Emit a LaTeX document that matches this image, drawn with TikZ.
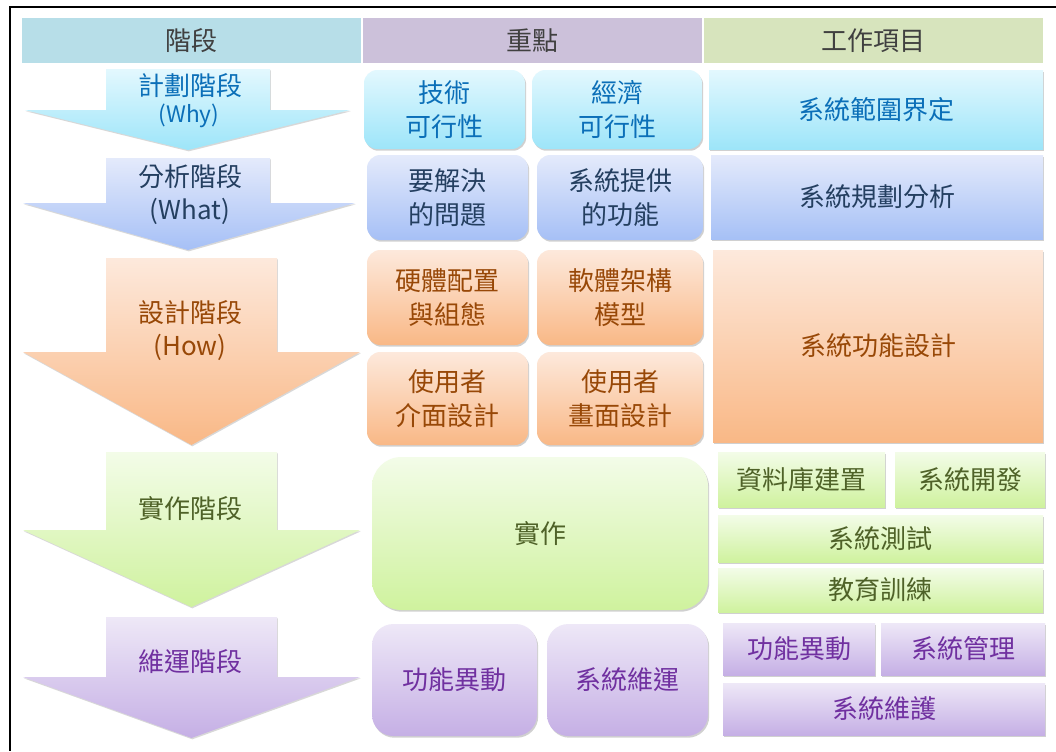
\documentclass[tikz,border=0pt]{standalone}
\usepackage{fontspec}
\newfontfamily\cjk{Noto Sans CJK TC}
\usetikzlibrary{shadows}
\definecolor{hA}{HTML}{B7DEE8}
\definecolor{hB}{HTML}{CCC1DA}
\definecolor{hC}{HTML}{D7E4BD}
\definecolor{hT}{HTML}{404040}
\definecolor{aT}{HTML}{E3F8FE}\definecolor{aB}{HTML}{9DE5F9}\definecolor{aX}{HTML}{0B6FB8}
\definecolor{bT}{HTML}{E4EAFB}\definecolor{bB}{HTML}{A6C0F6}\definecolor{bX}{HTML}{243F60}
\definecolor{cT}{HTML}{FDE9DC}\definecolor{cB}{HTML}{F9B886}\definecolor{cX}{HTML}{984807}
\definecolor{dT}{HTML}{F3FCE8}\definecolor{dB}{HTML}{CFF29E}\definecolor{dX}{HTML}{4F6228}
\definecolor{eT}{HTML}{EEE8F7}\definecolor{eB}{HTML}{C5AFE5}\definecolor{eX}{HTML}{7030A0}
\newcommand\rbox[7]{\node[#6, minimum width={(#4-#2)*0.75pt}, minimum height={(#5-#3)*0.75pt}] (#1) at ({(#2+#4)/2},{(#3+#5)/2}) {#7};}
\newcommand\arr[9]{\path[#9] (#2,#4) -- (#3,#4) -- (#3,#7) -- (#6,#7) -- ({(#2+#3)/2},#8) -- (#5,#7) -- (#2,#7) -- cycle;
  \coordinate (#1) at ({(#2+#3)/2},{(#4+#8)/2});}
\begin{document}
\begin{tikzpicture}[x=0.75pt,y=-0.75pt,
  txt/.style={font=\cjk\fontsize{19.5}{25.5}\selectfont, align=center, inner sep=0pt},
  hdr/.style={txt, text=hT},
  shd/.style={drop shadow={shadow xshift=0.9pt, shadow yshift=-1.3pt, opacity=0.3, fill=black!60}},
  mbox/.style={txt, rectangle, rounded corners=10pt, shd},
  sbox/.style={txt, rectangle, shd},
  rA/.style={top color=aT, bottom color=aB, text=aX},
  rB/.style={top color=bT, bottom color=bB, text=bX},
  rC/.style={top color=cT, bottom color=cB, text=cX},
  rD/.style={top color=dT, bottom color=dB, text=dX},
  rE/.style={top color=eT, bottom color=eB, text=eX},
  arrowshape/.style={drop shadow={shadow xshift=0.6pt, shadow yshift=-1pt, opacity=0.25, fill=black!60}}
]
\useasboundingbox (0,0) rectangle (1056,751);
\fill[white] (0,0) rectangle (1056,751);
\draw[line width=1.7pt] (1056,7) -- (10,7) -- (10,751);

% headers
\rbox{h1}{22}{18}{361}{63}{hdr, fill=hA}{階段}
\rbox{h2}{363}{18}{702}{63}{hdr, fill=hB}{重點}
\rbox{h3}{704}{18}{1043}{63}{hdr, fill=hC}{工作項目}

% arrows
\arr{a1}{106}{270}{69}{25}{350}{110}{150}{arrowshape, top color=aT, bottom color=aB}
\arr{a2}{106}{270}{158}{23}{355}{203}{250}{arrowshape, top color=bT, bottom color=bB}
\arr{a3}{106}{277}{258}{23}{360}{352}{445}{arrowshape, top color=cT, bottom color=cB}
\arr{a4}{106}{277}{452}{23}{360}{530}{607}{arrowshape, top color=dT, bottom color=dB}
\arr{a5}{106}{277}{617}{23}{360}{677}{738}{arrowshape, top color=eT, bottom color=eB}

\node[txt, text=aX] (t1) at (190,86) {計劃階段};
\node[txt, text=aX, font=\cjk\fontsize{17}{20}\selectfont] (t1b) at (189,116) {(Why)};
\node[txt, text=bX] (t2) at (190,177) {分析階段};
\node[txt, text=bX] (t2b) at (190,211) {(What)};
\node[txt, text=cX] (t3) at (190,313) {設計階段};
\node[txt, text=cX] (t3b) at (190,347) {(How)};
\node[txt, text=dX] (t4) at (190,509) {實作階段};
\node[txt, text=eX] (t5) at (190,662) {維運階段};

% middle column
\rbox{m11}{364}{70}{525}{149}{mbox, rA}{技術\\可行性}
\rbox{m12}{532}{70}{702}{149}{mbox, rA}{經濟\\可行性}
\rbox{m21}{367}{155}{528}{240}{mbox, rB}{要解決\\的問題}
\rbox{m22}{537}{155}{703}{240}{mbox, rB}{系統提供\\的功能}
\rbox{m31}{367}{250}{528}{345}{mbox, rC}{硬體配置\\與組態}
\rbox{m32}{537}{250}{703}{345}{mbox, rC}{軟體架構\\模型}
\rbox{m41}{367}{352}{528}{445}{mbox, rC}{使用者\\介面設計}
\rbox{m42}{537}{352}{703}{445}{mbox, rC}{使用者\\畫面設計}
\rbox{m5}{372}{457}{708}{610}{mbox, rD, rounded corners=22pt}{實作}
\rbox{m61}{372}{624}{537}{736}{mbox, rE, rounded corners=16pt}{功能異動}
\rbox{m62}{547}{624}{708}{736}{mbox, rE, rounded corners=16pt}{系統維運}

% right column
\rbox{r1}{709}{70}{1043}{149}{sbox, rA}{系統範圍界定}
\rbox{r2}{711}{155}{1043}{239}{sbox, rB}{系統規劃分析}
\rbox{r3}{713}{250}{1043}{442}{sbox, rC}{系統功能設計}
\rbox{r41}{718}{452}{885}{507}{sbox, rD}{資料庫建置}
\rbox{r42}{895}{452}{1045}{507}{sbox, rD}{系統開發}
\rbox{r43}{718}{515}{1043}{562}{sbox, rD}{系統測試}
\rbox{r44}{718}{568}{1043}{612}{sbox, rD}{教育訓練}
\rbox{r51}{723}{623}{875}{675}{sbox, rE}{功能異動}
\rbox{r52}{881}{623}{1045}{675}{sbox, rE}{系統管理}
\rbox{r53}{723}{683}{1045}{735}{sbox, rE}{系統維護}
\end{tikzpicture}
\end{document}
